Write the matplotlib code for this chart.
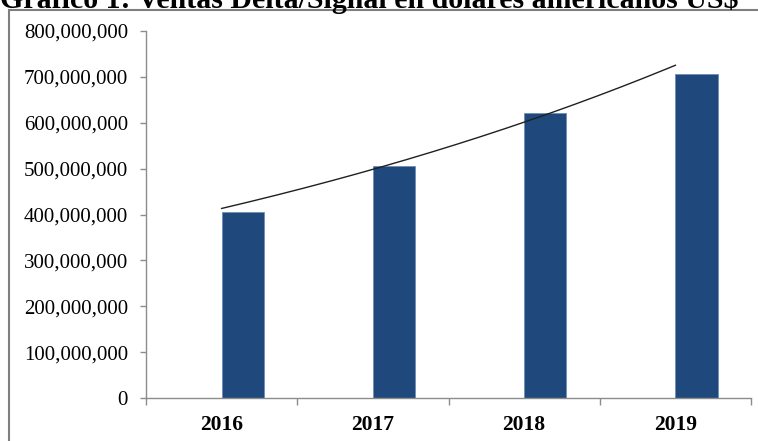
import matplotlib
matplotlib.use("Agg")
import matplotlib.pyplot as plt
import numpy as np
from matplotlib.patches import Rectangle
from matplotlib.ticker import FuncFormatter, FixedLocator

years = ["2016", "2017", "2018", "2019"]
sales = [405_000_000, 505_000_000, 622_000_000, 706_000_000]
y_ticks = [0, 100_000_000, 200_000_000, 300_000_000, 400_000_000,
           500_000_000, 600_000_000, 700_000_000, 800_000_000]
title = "Gráfico 1: Ventas Delta/Signal en dólares americanos US$"

plt.rcParams['font.family'] = ['Liberation Serif', 'DejaVu Serif']

W, H = 758, 441
fig = plt.figure(figsize=(W / 100, H / 100), dpi=100)
ax = fig.add_axes([146 / W, 1 - 398 / H, (751 - 146) / W, (398 - 31) / H])

x = np.arange(len(years))
ax.bar(x, sales, width=0.28, align='edge', color='#1F497D',
       edgecolor='#6f8db5', linewidth=0.6, zorder=2)

# exponential trendline (as Excel computes it)
xi = np.arange(1, len(sales) + 1)
b, a = np.polyfit(xi, np.log(sales), 1)
xs = np.linspace(1, len(sales), 200)
ax.plot(xs - 1, np.exp(a + b * xs), color='#202020', linewidth=1.0, zorder=3)

ax.set_xlim(-0.5, len(years) - 0.5)
ax.set_ylim(0, 800_000_000)
ax.set_yticks(y_ticks)
ax.yaxis.set_major_formatter(FuncFormatter(lambda v, p: f"{int(v):,}"))

ax.xaxis.set_major_locator(FixedLocator(np.arange(-0.5, len(years), 1.0)))
ax.xaxis.set_major_formatter(FuncFormatter(lambda v, p: ""))
ax.xaxis.set_minor_locator(FixedLocator(x))
ax.set_xticklabels(years, minor=True, fontweight='bold', fontsize=15.5)
ax.tick_params(axis='x', which='minor', length=0, pad=12)
ax.tick_params(axis='x', which='major', length=5, width=1, color='#8c8c8c', direction='out')
ax.tick_params(axis='y', length=4, width=1, color='#8c8c8c', labelsize=15, pad=9)

for s in ['top', 'right']:
    ax.spines[s].set_visible(False)
for s in ['left', 'bottom']:
    ax.spines[s].set_color('#8c8c8c')
    ax.spines[s].set_linewidth(1)

# outer frame (cropped at right/bottom)
fig.patches.append(Rectangle((9 / W, -0.2), 1.2, 1.2 - 10 / H,
                             transform=fig.transFigure, fill=False,
                             edgecolor='#7f7f7f', linewidth=1.5))

fig.text(0.0, 1 - 8 / H, title, fontweight='bold', fontsize=21.5,
         ha='left', va='baseline')

fig.savefig("out.png", dpi=100)
